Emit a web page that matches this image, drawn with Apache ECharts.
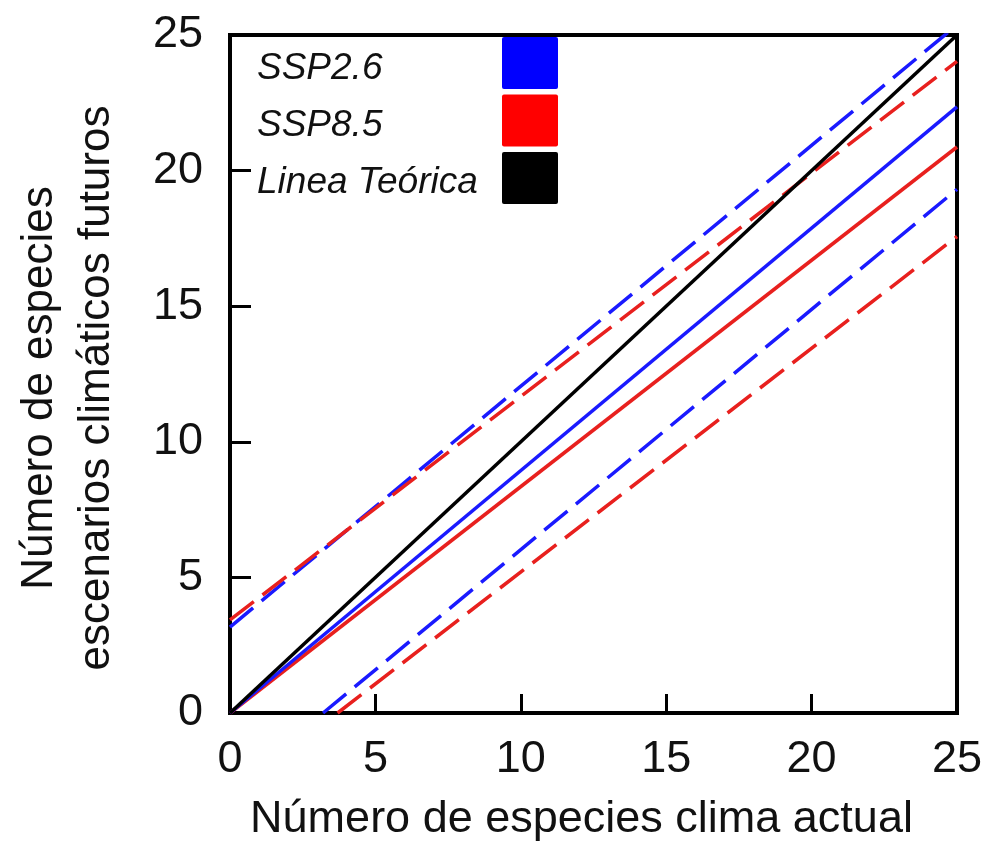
<!DOCTYPE html>
<html>
<head>
<meta charset="utf-8">
<script src="https://cdn.jsdelivr.net/npm/echarts@6/dist/echarts.min.js"></script>
<style>
  html, body { margin: 0; padding: 0; background: #fff; }
  #chart { width: 990px; height: 844px; }
</style>
</head>
<body>
<div id="chart"></div>
<script>
// Axis ticks
const xTicks = [0, 5, 10, 15, 20, 25];
const yTicks = [0, 5, 10, 15, 20, 25];

// Regression lines: [x, y] end points (actual vs future species richness)
const ssp26Fit   = [[0, 0], [25, 22.35]];
const ssp26Upper = [[0, 3.17], [25, 25.37]];
const ssp26Lower = [[3.2, 0], [25, 19.31]];

const ssp85Fit   = [[0, 0], [25, 20.87]];
const ssp85Upper = [[0, 3.43], [25, 24.03]];
const ssp85Lower = [[3.7, 0], [25, 17.57]];

const theoretical = [[0, 0], [25, 25]];

// Legend entries
const legendNames  = ['SSP2.6', 'SSP8.5', 'Linea Teórica'];
const legendColors = ['#0000ff', '#ff0000', '#000000'];

const FONT = '"Liberation Sans", Arial, sans-serif';
const BLUE = '#1a1aff';
const RED = '#e8201e';

const chart = echarts.init(document.getElementById('chart'), null, { renderer: 'canvas' });

function line(name, data, color, dashed) {
  return {
    name: name,
    type: 'line',
    data: data,
    showSymbol: false,
    symbol: 'none',
    clip: true,
    silent: true,
    lineStyle: {
      color: color,
      width: 3.5,
      type: dashed ? [30, 11] : 'solid'
    },
    z: dashed ? 2 : 3
  };
}

// Legend: label text on the left, colour block on the right
const legendCenters = [68, 125, 182];
const legendGraphics = [];
legendNames.forEach((n, i) => {
  legendGraphics.push({
    type: 'rect',
    left: 502, top: 37 + i * 57.5,
    shape: { width: 56, height: 52, r: 2 },
    style: { fill: legendColors[i] },
    z: 10
  });
  legendGraphics.push({
    type: 'text',
    x: 257, y: legendCenters[i] + 1,
    style: {
      text: n,
      font: 'italic 37px ' + FONT,
      fill: '#111',
      align: 'left',
      verticalAlign: 'middle'
    },
    z: 10
  });
});

chart.setOption({
  backgroundColor: '#fff',
  animation: false,
  grid: {
    left: 230, right: 33, top: 35, bottom: 131,
    outerBoundsMode: 'none',
    containLabel: false,
    show: true,
    borderColor: '#000',
    borderWidth: 4,
    backgroundColor: 'transparent'
  },
  xAxis: {
    type: 'value',
    min: xTicks[0], max: xTicks[xTicks.length - 1], interval: 5,
    name: 'Número de especies clima actual',
    nameLocation: 'middle',
    nameGap: 84,
    nameTextStyle: { fontFamily: FONT, fontSize: 45, color: '#111', padding: [0, 24, 0, 0] },
    axisLine: { show: true, lineStyle: { color: '#000', width: 4 } },
    axisTick: { show: true, inside: true, length: 19, lineStyle: { color: '#000', width: 3 } },
    axisLabel: {
      margin: 24, fontFamily: FONT, fontSize: 45, color: '#111',
      formatter: v => xTicks.includes(v) ? String(v) : ''
    },
    splitLine: { show: false }
  },
  yAxis: {
    type: 'value',
    min: yTicks[0], max: yTicks[yTicks.length - 1], interval: 5,
    name: 'Número de especies\nescenarios climáticos futuros',
    nameLocation: 'middle',
    nameRotate: 90,
    nameGap: 105,
    nameTextStyle: { fontFamily: FONT, fontSize: 44, color: '#111', lineHeight: 57, padding: [0, 28, 0, 0] },
    axisLine: { show: true, lineStyle: { color: '#000', width: 4 } },
    axisTick: { show: true, inside: true, length: 21, lineStyle: { color: '#000', width: 3 } },
    axisLabel: {
      margin: 27, fontFamily: FONT, fontSize: 45, color: '#111',
      formatter: v => yTicks.includes(v) ? String(v) : ''
    },
    splitLine: { show: false }
  },
  series: [
    line('SSP2.6 superior', ssp26Upper, BLUE, true),
    line('SSP8.5 superior', ssp85Upper, RED, true),
    line('SSP2.6 inferior', ssp26Lower, BLUE, true),
    line('SSP8.5 inferior', ssp85Lower, RED, true),
    line('SSP8.5', ssp85Fit, RED, false),
    line('SSP2.6', ssp26Fit, BLUE, false),
    line('Linea Teórica', theoretical, '#000', false)
  ],
  graphic: legendGraphics
});
</script>
</body>
</html>
